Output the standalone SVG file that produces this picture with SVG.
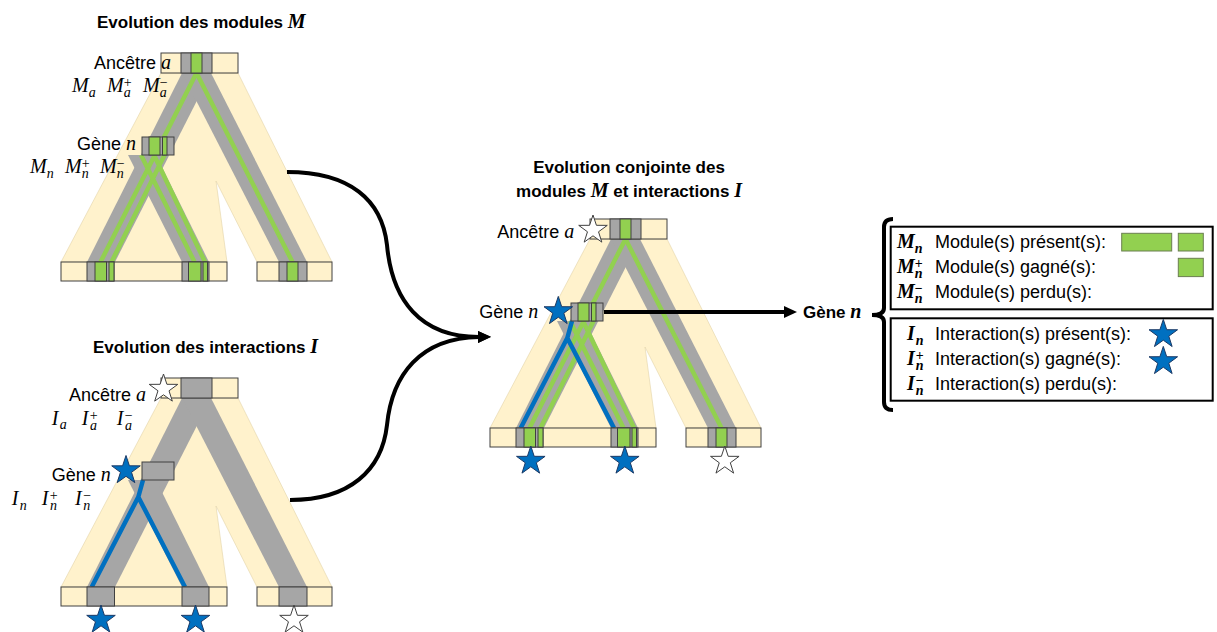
<svg xmlns="http://www.w3.org/2000/svg" width="1217" height="632" viewBox="0 0 1217 632">
<style>
.bg{fill:#fff2cc;stroke:#e3d4a8;stroke-width:.6}
.gr{fill:#a6a6a6}
.gl{stroke:#92d050;stroke-width:4.5;fill:none}
.bl{stroke:#0070c0;stroke-width:4.5;fill:none;stroke-linejoin:round}
.bx{stroke:#404040;stroke-width:1}
.cb{fill:#fff2cc}
.cg{fill:#a6a6a6}
.cn{fill:#92d050}
.sb{fill:#0070c0;stroke:#1c3a66;stroke-width:1}
.sw{fill:#fff;stroke:#404040;stroke-width:1}
.t{font-family:"Liberation Sans",Arial,sans-serif;font-size:18px;fill:#000}
.tb{font-family:"Liberation Sans",Arial,sans-serif;font-size:17px;font-weight:bold;fill:#000}
.mi{font-family:"Liberation Serif","Times New Roman",serif;font-style:italic;font-size:20px;fill:#000}
.mb{font-family:"Liberation Serif","Times New Roman",serif;font-style:italic;font-weight:bold;font-size:20px;fill:#000}
.sm{font-size:14px}
.up{font-style:normal}
.cc{stroke:#000;stroke-width:4;fill:none}
.frame{fill:#fff;stroke:#000;stroke-width:2}
</style>
<defs>
<path id="star" d="M0,-15 L3.41,-4.69 L14.27,-4.64 L5.52,1.79 L8.82,12.14 L0,5.8 L-8.82,12.14 L-5.52,1.79 L-14.27,-4.64 L-3.41,-4.69 Z"/>
<marker id="ah" markerUnits="userSpaceOnUse" markerWidth="13" markerHeight="12" refX="1" refY="6" orient="auto">
<path d="M0,0 L13,6 L0,12 Z" fill="#000"/>
</marker>
<g id="beige"><polygon class="bg" points="161,73 238,73 332,262 257,262 216,181 227,262 61,262"/></g>
<g id="gray">
<polygon class="gr" points="182,73 211,73 115,262 87,262"/>
<polygon class="gr" points="182,73 211,73 307,262 279,262"/>
<polygon class="gr" points="128,155 156,155 209,262 182,262"/>
</g>
<path id="greens" class="gl" d="M196.5,73 L100.5,262 M196.5,73 L292.5,262 M164.5,155 L111.5,262 M141,155 L194.5,262 M154,155 L205,262"/>
<path id="blues" class="bl" d="M143,155 L138.3,172 L91.7,262 M138.3,172 L185,262"/>
<g id="boxesM">
<rect class="cb bx" x="161" y="53" width="77" height="20"/>
<rect class="cg bx" x="181" y="53" width="31" height="20"/>
<rect class="cn bx" x="191" y="53" width="11" height="20"/>
<rect class="cg bx" x="142" y="137" width="32" height="18"/>
<rect class="cn bx" x="149" y="137" width="11" height="18"/>
<rect class="cn bx" x="162.5" y="137" width="4.5" height="18"/>
<rect class="cb bx" x="61" y="262" width="166" height="19"/>
<rect class="cg bx" x="87" y="262" width="27" height="19"/>
<rect class="cn bx" x="95" y="262" width="11.5" height="19"/>
<rect class="cn bx" x="109" y="262" width="5" height="19"/>
<rect class="cg bx" x="182" y="262" width="27" height="19"/>
<rect class="cn bx" x="188.5" y="262" width="12.5" height="19"/>
<rect class="cn bx" x="203" y="262" width="4.5" height="19"/>
<rect class="cb bx" x="257" y="262" width="75" height="19"/>
<rect class="cg bx" x="279" y="262" width="28" height="19"/>
<rect class="cn bx" x="287" y="262" width="11" height="19"/>
</g>
<g id="boxesI">
<rect class="cb bx" x="161" y="53" width="77" height="20"/>
<rect class="cg bx" x="181" y="53" width="31" height="20"/>
<rect class="cg bx" x="142" y="137" width="32" height="18"/>
<rect class="cb bx" x="61" y="262" width="166" height="19"/>
<rect class="cg bx" x="87" y="262" width="27.5" height="19"/>
<rect class="cg bx" x="182" y="262" width="27" height="19"/>
<rect class="cb bx" x="257" y="262" width="75" height="19"/>
<rect class="cg bx" x="279" y="262" width="28" height="19"/>
</g>
</defs>

<g id="tree-modules">
<text class="tb" x="97" y="28">Evolution des modules <tspan class="mb" font-size="19">M</tspan></text>
<use href="#beige"/>
<use href="#gray"/>
<use href="#greens"/>
<use href="#boxesM"/>
<text class="t" x="94" y="69">Ancêtre <tspan class="mi">a</tspan></text>
<text class="mi" x="72" y="92">M<tspan class="sm" dy="4.5">a</tspan></text>
<text class="mi" x="107" y="92">M<tspan class="sm up" dy="-5">+</tspan><tspan class="sm" dx="-7.9" dy="10">a</tspan></text>
<text class="mi" x="143" y="92">M<tspan class="sm up" dy="-5">−</tspan><tspan class="sm" dx="-7.9" dy="10">a</tspan></text>
<text class="t" x="77" y="150">Gène <tspan class="mi">n</tspan></text>
<text class="mi" x="30" y="173">M<tspan class="sm" dy="4.5">n</tspan></text>
<text class="mi" x="65" y="173">M<tspan class="sm up" dy="-5">+</tspan><tspan class="sm" dx="-7.9" dy="10">n</tspan></text>
<text class="mi" x="100" y="173">M<tspan class="sm up" dy="-5">−</tspan><tspan class="sm" dx="-7.9" dy="10">n</tspan></text>
</g>

<g id="tree-interactions">
<text class="tb" x="93" y="353">Evolution des interactions <tspan class="mb" font-size="19">I</tspan></text>
<g transform="translate(0,325)">
<use href="#beige"/>
<use href="#gray"/>
<use href="#blues"/>
<use href="#boxesI"/>
<use href="#star" class="sw" x="163.5" y="64"/>
<use href="#star" class="sb" x="126" y="145.5"/>
<use href="#star" class="sb" x="101" y="295"/>
<use href="#star" class="sb" x="195.5" y="295"/>
<use href="#star" class="sw" x="294" y="295"/>
</g>
<text class="t" x="69" y="400.5">Ancêtre <tspan class="mi">a</tspan></text>
<text class="mi" x="51.7" y="424.5">I<tspan class="sm" dx="1.5" dy="4.5">a</tspan></text>
<text class="mi" x="81.7" y="424.5">I<tspan class="sm up" dx="1.5" dy="-5">+</tspan><tspan class="sm" dx="-7.9" dy="10">a</tspan></text>
<text class="mi" x="116.7" y="424.5">I<tspan class="sm up" dx="1.5" dy="-5">−</tspan><tspan class="sm" dx="-7.9" dy="10">a</tspan></text>
<text class="t" x="51.7" y="480.5">Gène <tspan class="mi">n</tspan></text>
<text class="mi" x="11.7" y="505">I<tspan class="sm" dx="1.5" dy="4.5">n</tspan></text>
<text class="mi" x="41.7" y="505">I<tspan class="sm up" dx="1.5" dy="-5">+</tspan><tspan class="sm" dx="-7.9" dy="10">n</tspan></text>
<text class="mi" x="75" y="505">I<tspan class="sm up" dx="1.5" dy="-5">−</tspan><tspan class="sm" dx="-7.9" dy="10">n</tspan></text>
</g>

<g id="tree-joint">
<text class="tb" x="629" y="173" text-anchor="middle">Evolution conjointe des</text>
<text class="tb" x="629" y="197" text-anchor="middle">modules <tspan class="mb" font-size="19">M</tspan> et interactions <tspan class="mb" font-size="19">I</tspan></text>
<g transform="translate(429,166)">
<use href="#beige"/>
<use href="#gray"/>
<use href="#greens"/>
<use href="#blues"/>
<use href="#boxesM"/>
<use href="#star" class="sw" x="164" y="64"/>
<use href="#star" class="sb" x="129.3" y="145.4"/>
<use href="#star" class="sb" x="101.8" y="295"/>
<use href="#star" class="sb" x="195.8" y="295"/>
<use href="#star" class="sw" x="295.8" y="295"/>
</g>
<text class="t" x="497.3" y="238.3">Ancêtre <tspan class="mi">a</tspan></text>
<text class="t" x="479.3" y="318">Gène <tspan class="mi">n</tspan></text>
</g>

<g id="connectors">
<path class="cc" marker-end="url(#ah)" d="M287,172 C350,172 382,200 387,245 C392,300 420,337 479,337"/>
<path class="cc" marker-end="url(#ah)" d="M290,500 C350,500 382,470 387,425 C392,375 420,338 479,337"/>
<line class="cc" stroke-width="3.5" x1="604" y1="312" x2="785" y2="312" marker-end="url(#ah)"/>
<path class="cc" stroke-width="3.5" d="M893,219 Q884,219 884,227 L884,308 Q884,315 872,315 Q884,315 884,322 L884,402 Q884,410 893,410"/>
</g>

<g id="gene-n-label">
<text class="tb" font-size="18" x="803" y="318">Gène <tspan class="mb">n</tspan></text>
</g>

<g id="legend-modules">
<rect class="frame" x="890.7" y="226.7" width="322" height="82.6"/>
<text class="mb" x="897" y="248">M<tspan class="sm" dy="4.5">n</tspan></text>
<text class="t" x="935" y="248">Module(s) présent(s):</text>
<text class="mb" x="897" y="273">M<tspan class="sm up" dy="-5">+</tspan><tspan class="sm" dx="-8" dy="10">n</tspan></text>
<text class="t" x="935" y="273">Module(s) gagné(s):</text>
<text class="mb" x="897" y="297.5">M<tspan class="sm up" dy="-5">−</tspan><tspan class="sm" dx="-8" dy="10">n</tspan></text>
<text class="t" x="935" y="297.5">Module(s) perdu(s):</text>
<rect class="cn" stroke="#6b7f50" stroke-width="1" x="1121.7" y="233.3" width="50" height="17.7"/>
<rect class="cn" stroke="#6b7f50" stroke-width="1" x="1178.3" y="233.3" width="25" height="17.7"/>
<rect class="cn" stroke="#6b7f50" stroke-width="1" x="1178.3" y="258.3" width="25" height="18.3"/>
</g>

<g id="legend-interactions">
<rect class="frame" x="890.7" y="318.3" width="322" height="82.4"/>
<text class="mb" x="907" y="340">I<tspan class="sm" dx="1" dy="4.5">n</tspan></text>
<text class="t" x="935" y="340">Interaction(s) présent(s):</text>
<text class="mb" x="907" y="365">I<tspan class="sm up" dx="1" dy="-5">+</tspan><tspan class="sm" dx="-8" dy="10">n</tspan></text>
<text class="t" x="935" y="365">Interaction(s) gagné(s):</text>
<text class="mb" x="907" y="390">I<tspan class="sm up" dx="1" dy="-5">−</tspan><tspan class="sm" dx="-8" dy="10">n</tspan></text>
<text class="t" x="935" y="390">Interaction(s) perdu(s):</text>
<use href="#star" class="sb" x="1163.3" y="334.4"/>
<use href="#star" class="sb" x="1163.3" y="361.4"/>
</g>
</svg>
